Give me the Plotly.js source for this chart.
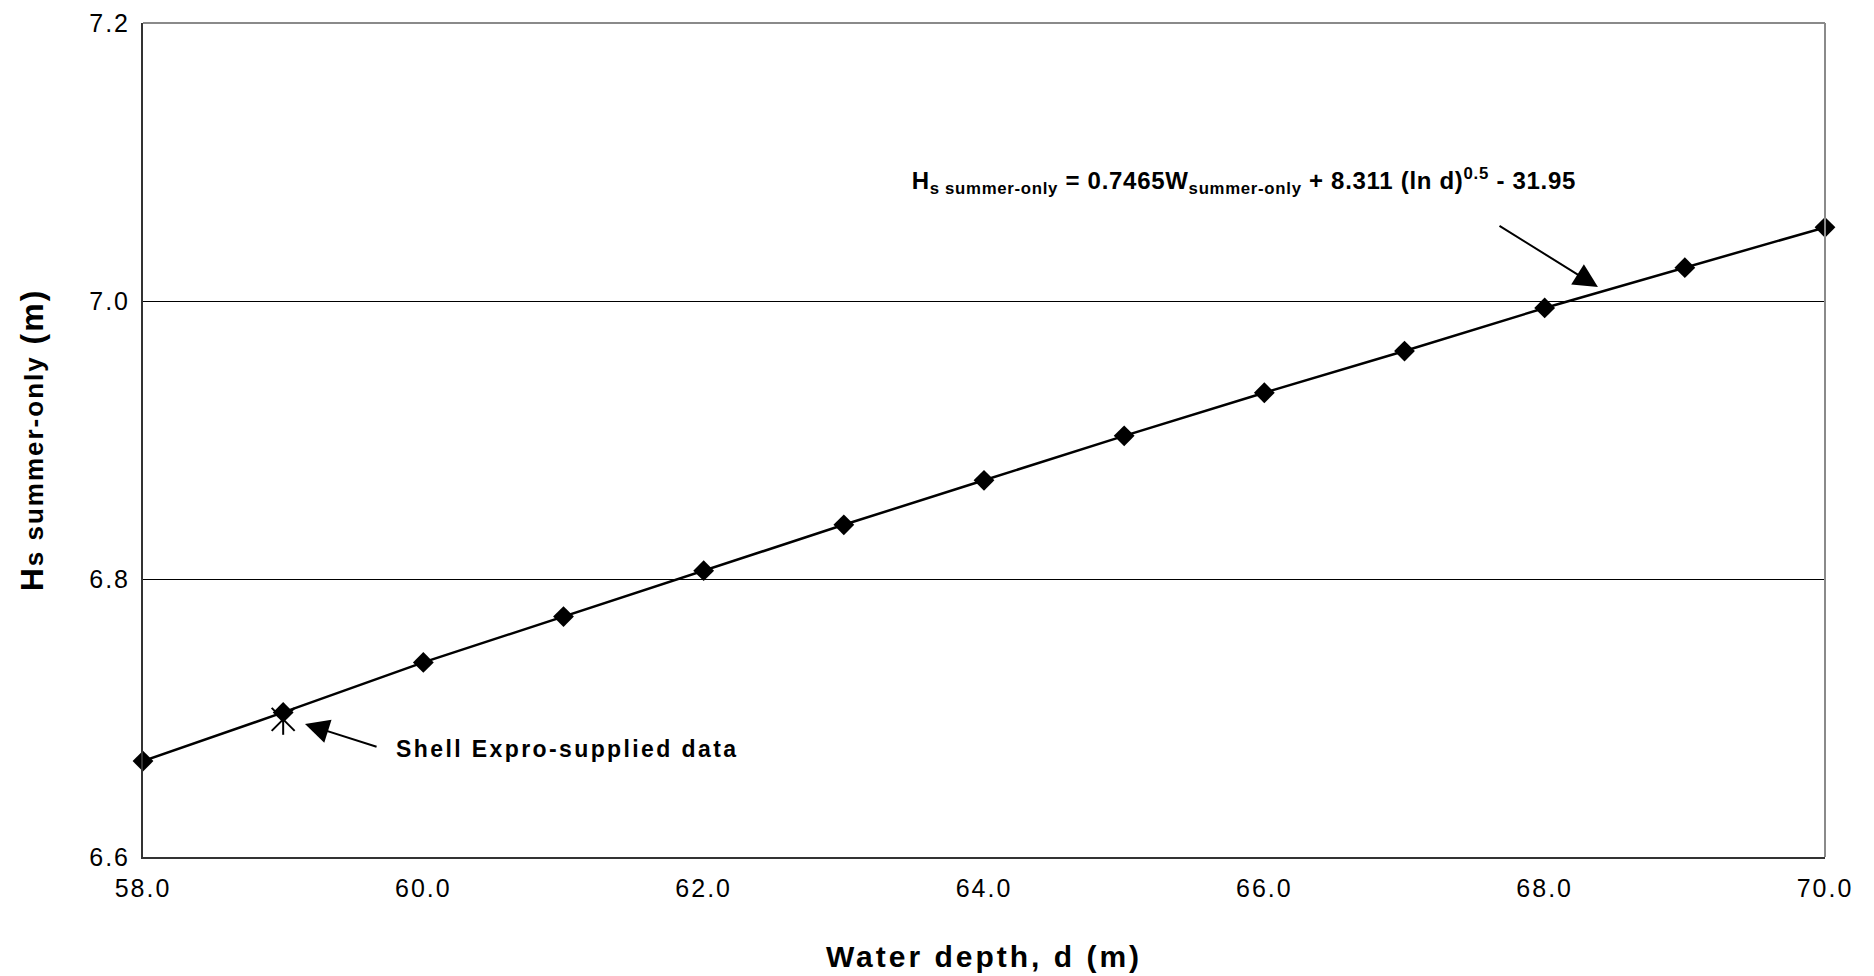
<!DOCTYPE html>
<html>
<head>
<meta charset="utf-8">
<script src="https://cdn.plot.ly/plotly-3.0.1.min.js"></script>
<style>
  html, body { margin: 0; padding: 0; background: #fff; }
  #chart { width: 1874px; height: 976px; }
  g.xtick text, g.ytick text { letter-spacing: 2px; }
  text.xtitle { letter-spacing: 3px; }
  text.ytitle { letter-spacing: 2px; }
  g.annotation[data-index="0"] text { letter-spacing: 0.7px; }
  g.annotation[data-index="2"] text { letter-spacing: 2.4px; }
</style>
</head>
<body>
<div id="chart"></div>
<script>
// ---- data ----
const depth = [58, 59, 60, 61, 62, 63, 64, 65, 66, 67, 68, 69, 70];
const hsSummer = [6.669, 6.704, 6.740, 6.773, 6.806, 6.839, 6.871, 6.903, 6.934, 6.964, 6.995, 7.024, 7.053];
const shellDepth = [59];
const shellHs = [6.699];
const xTickVals = [58, 60, 62, 64, 66, 68, 70];
const xTickText = ['58.0', '60.0', '62.0', '64.0', '66.0', '68.0', '70.0'];
const yTickVals = [6.6, 6.8, 7.0, 7.2];
const yTickText = ['6.6', '6.8', '7.0', '7.2'];

const FONT = '"Liberation Sans", Arial, Helvetica, sans-serif';

const traces = [
  { x: shellDepth, y: shellHs, type: 'scatter', mode: 'markers', hoverinfo: 'skip', cliponaxis: false,
    marker: { symbol: 'x-thin-open', size: 23, color: '#000', line: { color: '#000', width: 2 } } },
  { x: shellDepth, y: shellHs, type: 'scatter', mode: 'markers', hoverinfo: 'skip', cliponaxis: false,
    marker: { symbol: 'line-ns-open', size: 22, color: '#000', line: { color: '#000', width: 2 } } },
  { x: depth, y: hsSummer, type: 'scatter', mode: 'lines+markers', cliponaxis: false,
    line: { color: '#000', width: 2.5 },
    marker: { symbol: 'diamond', size: 16, color: '#000' } }
];

const layout = {
  width: 1874, height: 976,
  margin: { l: 143, r: 49, t: 23, b: 119 },
  paper_bgcolor: '#fff', plot_bgcolor: '#fff',
  showlegend: false,
  font: { family: FONT, color: '#000' },
  xaxis: {
    range: [58, 70], tickmode: 'array', tickvals: xTickVals, ticktext: xTickText,
    showgrid: false, zeroline: false, showline: true, linecolor: '#333', linewidth: 2,
    ticks: '', ticklabelstandoff: 8,
    tickfont: { family: FONT, size: 25, color: '#000' },
    title: { text: 'Water depth, d (m)', standoff: 45,
             font: { family: FONT, size: 30, weight: 'bold', color: '#000' } }
  },
  yaxis: {
    range: [6.6, 7.2], tickmode: 'array', tickvals: yTickVals, ticktext: yTickText,
    showgrid: true, gridcolor: '#000', gridwidth: 1, zeroline: false,
    showline: true, linecolor: '#333', linewidth: 2,
    ticks: '', ticklabelstandoff: 6,
    tickfont: { family: FONT, size: 25, color: '#000' },
    title: { text: 'H<span style="font-size:26px">s summer-only</span> (m)\u00A0\u00A0\u00A0', standoff: 36,
             font: { family: FONT, size: 32, weight: 'bold', color: '#000' } }
  },
  shapes: [
    { type: 'line', xref: 'paper', yref: 'paper', x0: 0, x1: 1, y0: 1, y1: 1,
      line: { color: '#8a8a8a', width: 2 } },
    { type: 'line', xref: 'paper', yref: 'paper', x0: 1, x1: 1, y0: 0, y1: 1,
      line: { color: '#8a8a8a', width: 2 } }
  ],
  annotations: [
    { x: 65.858, y: 7.086, xref: 'x', yref: 'y', xanchor: 'center', yanchor: 'middle', showarrow: false,
      text: 'H<sub>s summer-only</sub> = 0.7465W<sub>summer-only</sub> + 8.311 (ln d)<sup>0.5</sup> - 31.95',
      font: { family: FONT, size: 24, weight: 'bold', color: '#000' } },
    { x: 68.38, y: 7.010, ax: 67.667, ay: 7.0547, xref: 'x', yref: 'y', axref: 'x', ayref: 'y',
      text: '', showarrow: true, arrowhead: 2, arrowsize: 2.4, arrowwidth: 2, arrowcolor: '#000' },
    { x: 61.025, y: 6.678, xref: 'x', yref: 'y', xanchor: 'center', yanchor: 'middle', showarrow: false,
      text: 'Shell Expro-supplied data',
      font: { family: FONT, size: 23, weight: 'bold', color: '#000' } },
    { x: 59.156, y: 6.6957, ax: 59.677, ay: 6.679, xref: 'x', yref: 'y', axref: 'x', ayref: 'y',
      text: '', showarrow: true, arrowhead: 2, arrowsize: 2.4, arrowwidth: 2, arrowcolor: '#000' }
  ]
};

Plotly.newPlot('chart', traces, layout, { staticPlot: true, displayModeBar: false });
</script>
</body>
</html>
